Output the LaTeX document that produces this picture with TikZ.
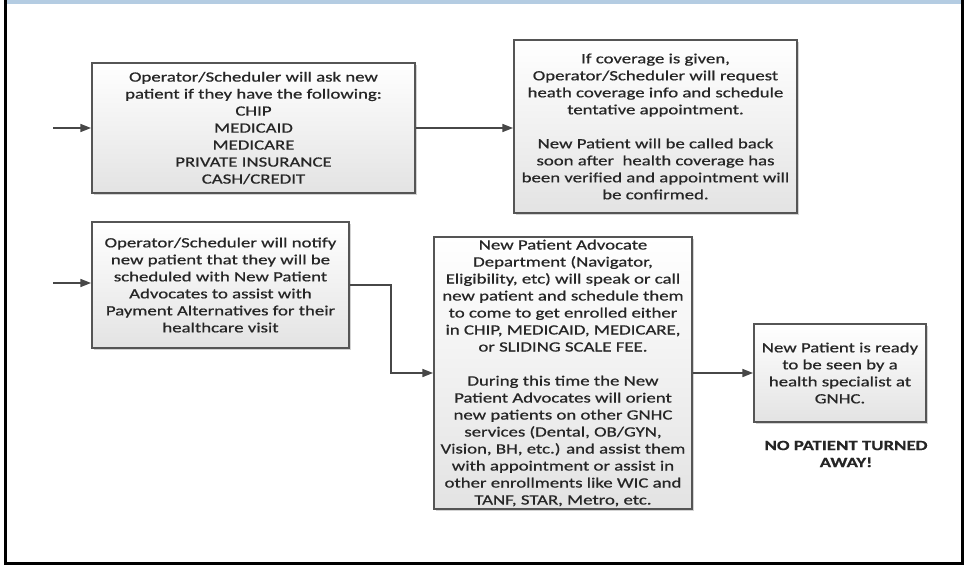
\documentclass[tikz,border=0pt]{standalone}
\usepackage{fontspec}
\setmainfont[FakeStretch=1.33,FakeBold=0.7]{Carlito}
\usetikzlibrary{arrows.meta,shadows}
\definecolor{boxline}{HTML}{555555}
\definecolor{txt}{HTML}{262626}
\definecolor{barblue}{HTML}{B4CCE2}
\tikzset{
  flowbox/.style={draw=boxline, line width=1.4pt, top color=white, bottom color=black!11,
    drop shadow={shadow xshift=1.2pt, shadow yshift=-1.2pt, opacity=0.35},
    inner sep=0pt, align=center, text=txt,
    font=\fontsize{10.6}{12.75}\selectfont},
  link/.style={draw=black!72, line width=1.2pt, -{Triangle[length=8pt,width=6pt]}},
}
\begin{document}
\begin{tikzpicture}[x=0.75pt,y=-0.75pt]
\useasboundingbox (0,0) rectangle (964,565);
% page frame
\fill[barblue] (6,0) rectangle (961,3.6);
\draw[black, line width=2.4pt] (5.5,0) -- (5.5,563.6) -- (962.4,563.6) -- (962.4,0);

% boxes (corner coordinates in px)
\node[flowbox, minimum width=323*0.75pt, minimum height=130*0.75pt] (ask) at (253.5,128)
 {Operator/Scheduler will ask new\\patient if they have the following:\\CHIP\\MEDICAID\\MEDICARE\\PRIVATE INSURANCE\\CASH/CREDIT};
\node[flowbox, minimum width=283*0.75pt, minimum height=173*0.75pt] (cover) at (655.5,126.5)
 {If coverage is given,\\Operator/Scheduler will request\\heath coverage info and schedule\\tentative appointment.\\[12.75pt]New Patient will be called back\\soon after\ \ health coverage has\\been verified and appointment will\\be confirmed.};
\node[flowbox, minimum width=257*0.75pt, minimum height=126*0.75pt] (notify) at (220.5,285)
 {Operator/Scheduler will notify\\new patient that they will be\\scheduled with New Patient\\Advocates to assist with\\Payment Alternatives for their\\healthcare visit};
\node[flowbox, minimum width=258*0.75pt, minimum height=272*0.75pt] (advocate) at (563,373)
 {New Patient Advocate\\Department (Navigator,\\Eligibility, etc) will speak or call\\new patient and schedule them\\to come to get enrolled either\\in CHIP, MEDICAID, MEDICARE,\\or SLIDING SCALE FEE.\\[12.75pt]During this time the New\\Patient Advocates will orient\\new patients on other GNHC\\services (Dental, OB/GYN,\\Vision, BH, etc.) and assist them\\with appointment or assist in\\other enrollments like WIC and\\TANF, STAR, Metro, etc.};
\node[flowbox, minimum width=172*0.75pt, minimum height=98*0.75pt] (ready) at (840,373)
 {New Patient is ready\\to be seen by a\\health specialist at\\GNHC.};
\node[align=center, text=txt, font=\fontsize{10.6}{12.75}\selectfont\bfseries] (noturn) at (846,454)
 {NO PATIENT TURNED\\AWAY!};

% connectors
\coordinate (in1) at (53,128);
\coordinate (in2) at (53,283);
\draw[link] (in1) -- (ask.west);
\draw[link] (ask.east) -- (cover.west |- ask.east);
\draw[link] (in2) -- (notify.west |- in2);
\draw[link] (notify.east) -| (391,373) -- (advocate.west);
\draw[link] (advocate.east) -- (ready.west);
\end{tikzpicture}
\end{document}
